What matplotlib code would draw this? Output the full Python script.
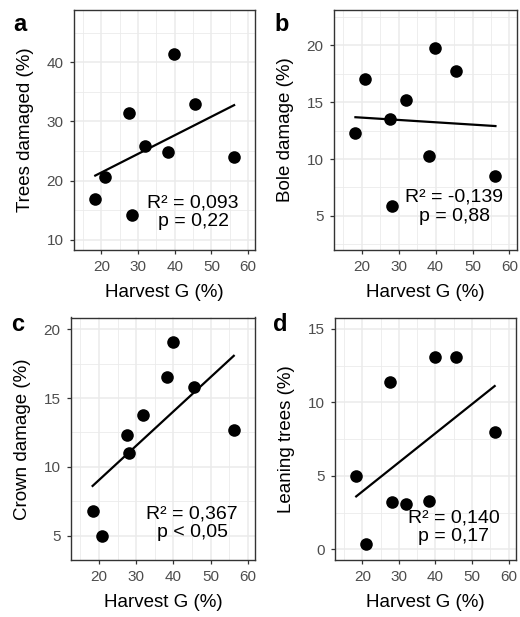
import numpy as np
import matplotlib.pyplot as plt

plt.rcParams['font.family'] = ['Liberation Sans', 'DejaVu Sans']

# harvest intensity (basal area removed) shared by all panels
harvest_g = [18.3, 20.9, 27.6, 28.2, 31.9, 38.2, 39.9, 45.6, 56.2]

trees_damaged = [16.9, 20.6, 31.5, 14.2, 25.9, 24.9, 41.4, 32.9, 24.0]
bole_damage = [12.25, 17.0, 13.5, 5.9, 15.2, 10.3, 19.8, 17.7, 8.5]
crown_damage = [6.8, 5.0, 12.3, 11.0, 13.8, 16.5, 19.1, 15.8, 12.7]
leaning_trees = [5.0, 0.4, 11.4, 3.2, 3.1, 3.3, 13.1, 13.05, 8.0]

panel_letters = ['a', 'b', 'c', 'd']
y_labels = ['Trees damaged (%)', 'Bole damage (%)', 'Crown damage (%)', 'Leaning trees (%)']
stats_labels = ['R² = 0,093\np = 0,22', 'R² = -0,139\np = 0,88',
                'R² = 0,367\np < 0,05', 'R² = 0,140\np = 0,17']
x_ticks = [20, 30, 40, 50, 60]

W, H = 520, 617
fig = plt.figure(figsize=(W / 100, H / 100), dpi=100)


def add_panel(rect, letter, letter_pos, y, ylabel, label, ylim, yticks, ystep, text_y):
    l, t, r, b = rect
    ax = fig.add_axes([l / W, 1 - b / H, (r - l) / W, (b - t) / H])
    ax.set_axisbelow(True)

    ax.scatter(harvest_g, y, s=82, color='black', zorder=3, linewidths=0)
    coef = np.polyfit(harvest_g, y, 1)
    xs = np.array([min(harvest_g), max(harvest_g)])
    ax.plot(xs, np.polyval(coef, xs), color='black', lw=1.6, zorder=2)

    ax.set_xticks(x_ticks)
    ax.set_xticks([15, 25, 35, 45, 55, 65], minor=True)
    ax.set_yticks(yticks)
    ax.set_yticks([v + ystep / 2 for v in [yticks[0] - ystep] + yticks], minor=True)
    # limits after ticks so the minor ticks don't widen the view
    ax.set_xlim(12.5, 61.9)
    ax.set_ylim(*ylim)
    ax.grid(which='major', color='#EBEBEB', lw=1.1)
    ax.grid(which='minor', color='#EBEBEB', lw=0.6)

    ax.tick_params(which='major', length=3, width=0.9, color='#333333',
                   labelsize=11, labelcolor='#4D4D4D', pad=4.5)
    ax.tick_params(which='minor', length=0)
    for s in ax.spines.values():
        s.set_color('#333333')
        s.set_linewidth(1.0)

    ax.set_xlabel('Harvest G (%)', fontsize=13.5, labelpad=7)
    ax.set_ylabel(ylabel, fontsize=13.5, labelpad=9)

    ax.text(45, text_y, label, ha='center', va='center', fontsize=14,
            linespacing=1.12, multialignment='center')
    fig.text(letter_pos[0] / W, 1 - letter_pos[1] / H, letter,
             fontsize=17, fontweight='bold', va='baseline')
    return ax


add_panel((74, 10, 255, 250), panel_letters[0], (13, 31), trees_damaged, y_labels[0],
          stats_labels[0], (8.3, 48.8), [10, 20, 30, 40], 10, 14.6)
add_panel((334, 10, 516.5, 250), panel_letters[1], (274, 31), bole_damage, y_labels[1],
          stats_labels[1], (2.0, 23.1), [5, 10, 15, 20], 5, 5.8)
add_panel((71, 317.5, 255, 560), panel_letters[2], (11, 331), crown_damage, y_labels[2],
          stats_labels[2], (3.24, 20.85), [5, 10, 15, 20], 5, 5.9)
add_panel((335, 318, 515.5, 560), panel_letters[3], (273, 331), leaning_trees, y_labels[3],
          stats_labels[3], (-0.72, 15.73), [0, 5, 10, 15], 5, 1.5)

fig.savefig('out.png', dpi=100)
